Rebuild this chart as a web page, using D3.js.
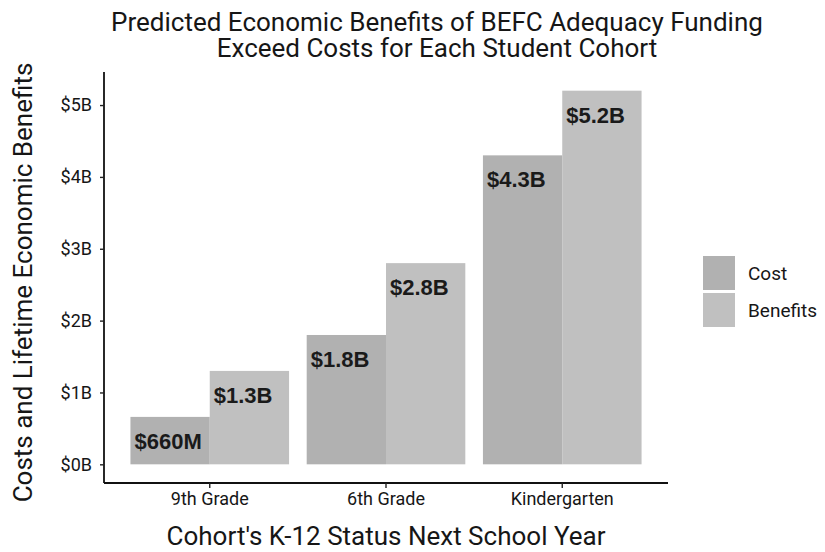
<!DOCTYPE html>
<html>
<head>
<meta charset="utf-8">
<script src="https://cdn.jsdelivr.net/npm/d3@7"></script>
<style>
  body { margin: 0; background: #fff; }
  svg { display: block; }
</style>
</head>
<body>
<div id="chart"></div>
<script>
// data
const cohorts = ["9th Grade", "6th Grade", "Kindergarten"];
const series = ["Cost", "Benefits"];
const costValues = [0.66, 1.8, 4.3];       // billions
const benefitValues = [1.3, 2.8, 5.2];     // billions
const costLabels = ["$660M", "$1.8B", "$4.3B"];
const benefitLabels = ["$1.3B", "$2.8B", "$5.2B"];
const yTicks = [0, 1, 2, 3, 4, 5];

const width = 825, height = 552;
const margin = { top: 72, right: 157, bottom: 69, left: 104 };
const innerWidth = width - margin.left - margin.right;
const innerHeight = height - margin.top - margin.bottom;

const fillColor = { Cost: "#b1b1b1", Benefits: "#c0c0c0" };
const textColor = "#161616";
const font = "Roboto, 'Noto Sans', sans-serif";

const rows = [];
cohorts.forEach((c, i) => {
    rows.push({ cohort: c, series: "Cost", value: costValues[i], label: costLabels[i] });
    rows.push({ cohort: c, series: "Benefits", value: benefitValues[i], label: benefitLabels[i] });
});

const svg = d3.select("#chart").append("svg")
    .attr("width", width)
    .attr("height", height)
    .attr("viewBox", `0 0 ${width} ${height}`);

const g = svg.append("g").attr("transform", `translate(${margin.left},${margin.top})`);

// scales (ggplot-like expansion)
const x = d3.scaleBand().domain(cohorts).range([0, innerWidth])
    .paddingInner(0.1).paddingOuter(0.15);
const xSub = d3.scaleBand().domain(series).range([0, x.bandwidth()]);
const yMax = d3.max(benefitValues);
const y = d3.scaleLinear().domain([-yMax * 0.05, yMax * 1.05]).range([innerHeight, 0]);

// bars
g.selectAll("rect.bar").data(rows).enter().append("rect")
    .attr("class", "bar")
    .attr("x", d => x(d.cohort) + xSub(d.series))
    .attr("y", d => y(d.value))
    .attr("width", xSub.bandwidth())
    .attr("height", d => y(0) - y(d.value))
    .attr("fill", d => fillColor[d.series]);

// value labels inside bars
g.selectAll("text.val").data(rows).enter().append("text")
    .attr("class", "val")
    .attr("x", d => x(d.cohort) + xSub(d.series) + 4)
    .attr("y", d => y(d.value) + 32)
    .attr("font-family", "'Liberation Sans', Arial, sans-serif")
    .attr("font-weight", "bold")
    .attr("font-size", 22)
    .attr("fill", "#1a1a1a")
    .text(d => d.label);

// axes
const yAxis = g.append("g")
    .call(d3.axisLeft(y).tickValues(yTicks).tickFormat(d => `$${d}B`).tickSize(4).tickPadding(8));
const xAxis = g.append("g")
    .attr("transform", `translate(0,${innerHeight})`)
    .call(d3.axisBottom(x).tickSize(5).tickPadding(4));

[yAxis, xAxis].forEach(a => {
    a.select(".domain").attr("stroke", "#111").attr("stroke-width", 1.8);
    a.selectAll(".tick line").attr("stroke", "#222").attr("stroke-width", 1.4);
    a.selectAll(".tick text").attr("font-family", font).attr("fill", textColor);
});
yAxis.selectAll(".tick text").attr("font-size", 18);
xAxis.selectAll(".tick text").attr("font-size", 18);
// plain axis lines (no end caps)
yAxis.select(".domain").attr("d", `M0,0V${innerHeight}`);
xAxis.select(".domain").attr("d", `M0,0H${innerWidth}`);

// title
const title = svg.append("text")
    .attr("text-anchor", "middle")
    .attr("font-family", font)
    .attr("font-size", 26)
    .attr("fill", textColor);
title.append("tspan").attr("x", 437).attr("y", 31).text("Predicted Economic Benefits of BEFC Adequacy Funding");
title.append("tspan").attr("x", 437).attr("y", 57).text("Exceed Costs for Each Student Cohort");

// axis titles
svg.append("text")
    .attr("x", margin.left + innerWidth / 2)
    .attr("y", 545)
    .attr("text-anchor", "middle")
    .attr("font-family", font)
    .attr("font-size", 26)
    .attr("fill", textColor)
    .text("Cohort's K-12 Status Next School Year");

svg.append("text")
    .attr("transform", `translate(32,${margin.top + innerHeight / 2 + 5}) rotate(-90)`)
    .attr("text-anchor", "middle")
    .attr("font-family", font)
    .attr("font-size", 26)
    .attr("fill", textColor)
    .text("Costs and Lifetime Economic Benefits");

// legend
const legend = svg.append("g").attr("transform", "translate(703,256)");
series.forEach((s, i) => {
    const row = legend.append("g").attr("transform", `translate(0,${i * 37})`);
    row.append("rect").attr("width", 32).attr("height", 34).attr("fill", fillColor[s]);
    row.append("text")
        .attr("x", 45).attr("y", 24)
        .attr("font-family", font)
        .attr("font-size", 19)
        .attr("fill", textColor)
        .text(s);
});
</script>
</body>
</html>
